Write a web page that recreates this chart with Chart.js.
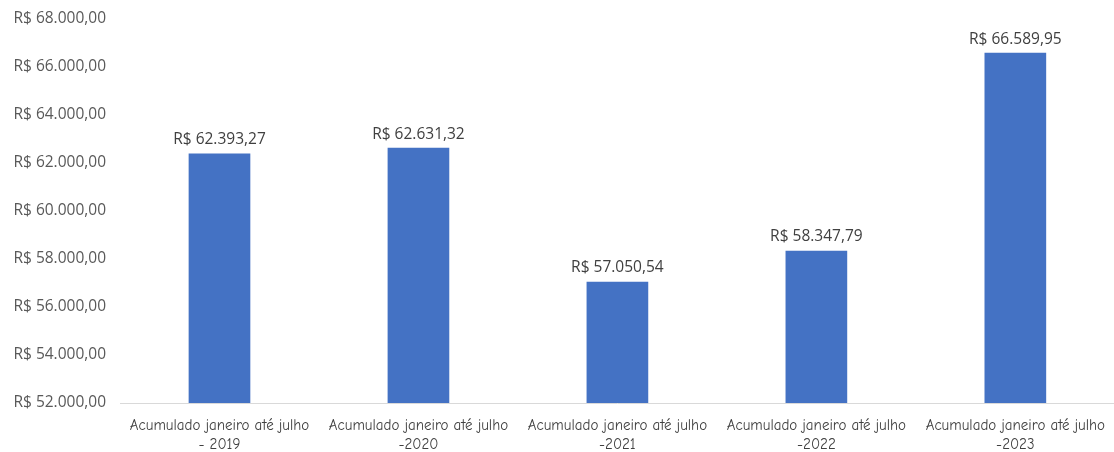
<!DOCTYPE html>
<html>
<head>
<meta charset="utf-8">
<script src="https://cdn.jsdelivr.net/npm/chart.js@4"></script>
<style>
  html, body { margin: 0; padding: 0; background: #fff; overflow: hidden; }
  #wrap { width: 1114px; height: 452px; overflow: hidden; }
</style>
</head>
<body>
<div id="wrap"><canvas id="chart" width="1118" height="452"></canvas></div>
<script>
let labelLine1 = ["Acumulado janeiro até julho", "Acumulado janeiro até julho", "Acumulado janeiro até julho", "Acumulado janeiro até julho", "Acumulado janeiro até julho"];
let labelLine2 = ["- 2019", "-2020", "-2021", "-2022", "-2023"];
let values = [62393.27, 62631.32, 57050.54, 58347.79, 66589.95];
let yTicks = [52000, 54000, 56000, 58000, 60000, 62000, 64000, 66000, 68000];

function toMoney(v) {
    return "R$ " + Number(v).toLocaleString("pt-BR", {minimumFractionDigits: 2, maximumFractionDigits: 2});
}

let valueLabels = {
    id: "valueLabels",
    afterDatasetsDraw(chart) {
        let ctx = chart.ctx;
        let meta = chart.getDatasetMeta(0);
        ctx.save();
        ctx.font = "15.5px 'Open Sans', sans-serif";
        ctx.fillStyle = "#404040";
        ctx.textAlign = "center";
        ctx.textBaseline = "bottom";
        meta.data.forEach((bar, i) => {
            ctx.fillText(toMoney(values[i]), bar.x, bar.y - 6);
        });
        ctx.restore();
    }
};

let ctx = document.getElementById("chart").getContext("2d");
new Chart(ctx, {
    type: "bar",
    data: {
        labels: labelLine1.map((l, i) => [l, labelLine2[i]]),
        datasets: [{
            data: values,
            backgroundColor: "#4472c4",
            barPercentage: 0.62,
            categoryPercentage: 0.5
        }]
    },
    options: {
        responsive: false,
        animation: false,
        layout: { padding: { top: 19, right: 0, left: 0, bottom: 0 } },
        plugins: { legend: { display: false }, tooltip: { enabled: false } },
        scales: {
            x: {
                grid: { display: false, drawTicks: false },
                border: { color: "#d9d9d9", width: 1 },
                ticks: {
                    color: "#404040",
                    font: { family: "'Comic Sans MS', 'Comic Neue', 'DejaVu Sans', sans-serif", size: 15, lineHeight: 1.3 },
                    padding: 13,
                    maxRotation: 0,
                    autoSkip: false
                },
                afterFit(scale) { scale.height = 49; }
            },
            y: {
                min: 52000,
                max: 68000,
                afterBuildTicks(scale) { scale.ticks = yTicks.map(v => ({value: v})); },
                grid: { display: false, drawTicks: false },
                border: { display: false },
                ticks: {
                    color: "#595959",
                    font: { family: "'Open Sans', sans-serif", size: 15.5 },
                    padding: 14,
                    callback: v => toMoney(v)
                },
                afterFit(scale) {
                    scale.width = 120;
                    scale.paddingTop = 0;
                    scale.paddingBottom = 0;
                }
            }
        }
    },
    plugins: [valueLabels]
});
</script>
</body>
</html>
